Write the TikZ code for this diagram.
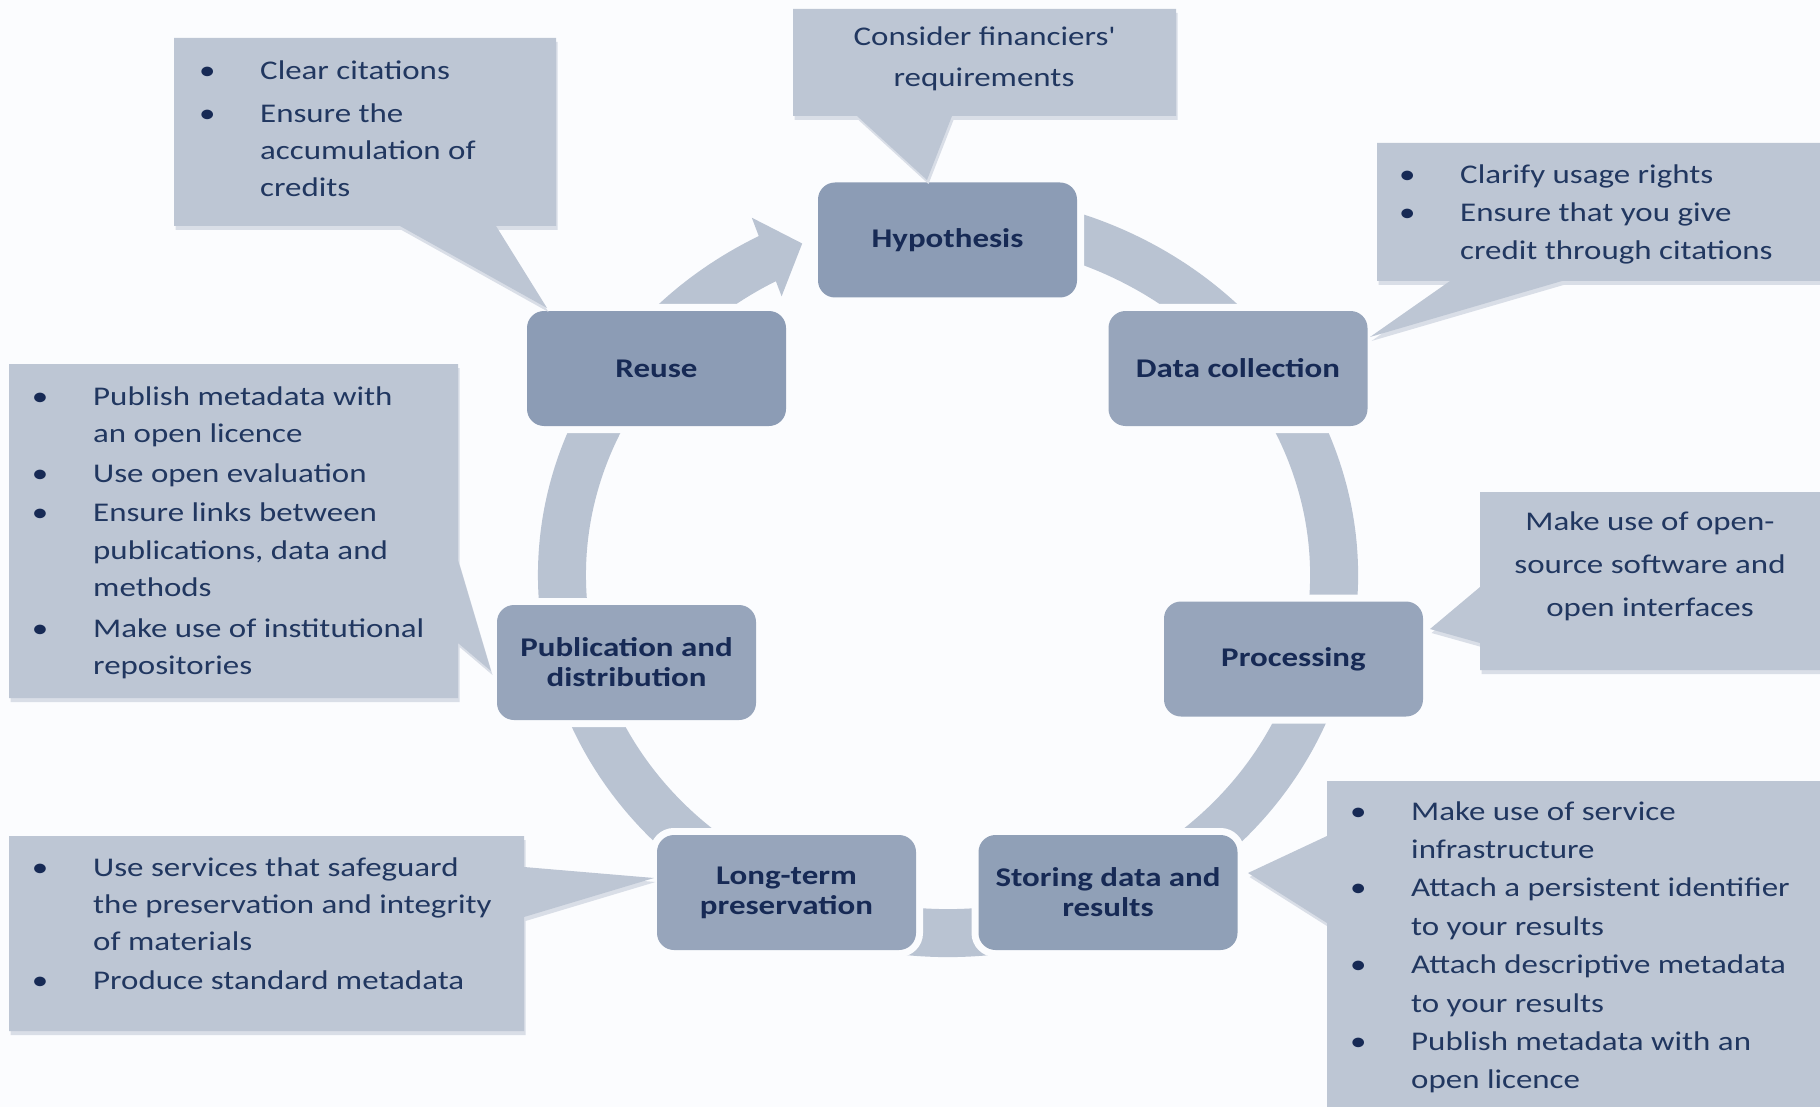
\documentclass[tikz,border=0pt]{standalone}
\usepackage{fontspec}
\setmainfont{Carlito}[FakeStretch=1.22]
\usetikzlibrary{shadows}
\definecolor{bgc}{HTML}{FBFCFE}
\definecolor{ringc}{HTML}{B9C3D2}
\definecolor{callc}{HTML}{BDC6D4}
\definecolor{shadc}{HTML}{D9DEE7}
\definecolor{boxa}{HTML}{8C9CB5}
\definecolor{boxb}{HTML}{97A5BB}
\definecolor{boxtxt}{HTML}{172A55}
\definecolor{ctxt}{HTML}{213760}
\definecolor{bulc}{HTML}{172A55}
\newcommand{\cbul}{\makebox[0pt]{\textcolor{bulc}{\textbullet}}\hspace*{53pt}}
\newcommand{\cind}{\hspace*{53pt}}
\begin{document}
\begin{tikzpicture}[x=1pt,y=-1pt,
  stage/.style={rounded corners=17pt, minimum width=259pt, minimum height=115pt,
    inner sep=0pt, align=center, text=boxtxt,
    font=\fontsize{27pt}{30pt}\selectfont\bfseries,
    preaction={draw=bgc, line width=14pt}},
  callout/.style={fill=callc, drop shadow={shadow xshift=1.5pt, shadow yshift=-4pt, fill=shadc, opacity=1}},
  ctext/.style={inner sep=0pt, text=ctxt},
  ringband/.style={draw=ringc, line width=48pt, line cap=butt}]
\fill[bgc] (0,0) rectangle (1820,1107);
\useasboundingbox (0,0) rectangle (1820,1107);

% cycle ring
\coordinate (rc) at (948,575);
\draw[ringband] (rc) ++(252:386 and 358) arc[start angle=252, end angle=603, x radius=386, y radius=358];
\fill[ringc] (802.2,243.5) -- (781.6,296.3) -- (751.8,217.7) -- cycle;

% stages
\node[stage, fill=boxa] (hyp) at (947.5,240) {Hypothesis};
\node[stage, fill=boxb] (dc) at (1238,368.5) {Data collection};
\node[stage, fill=boxb] (proc) at (1293.5,659) {Processing};
\node[stage, fill=boxa!60!boxb] (store) at (1108,892.5) {Storing data and\\results};
\node[stage, fill=boxb] (ltp) at (786.5,892.5) {Long-term\\preservation};
\node[stage, fill=boxb] (pub) at (626.5,662.5) {Publication and\\distribution};
\node[stage, fill=boxa] (reuse) at (656.5,368.5) {Reuse};

% callouts
\fill[callout] (174,38) -- (556,38) -- (556,226) -- (496,226) -- (547,308) -- (400,226) -- (174,226) -- cycle;
\fill[callout] (793,9) -- (1176,9) -- (1176,116) -- (952,116) -- (927,180) -- (857,116) -- (793,116) -- cycle;
\fill[callout] (1377,143) -- (1820,143) -- (1820,281) -- (1562,281) -- (1370,337) -- (1450,281) -- (1377,281) -- cycle;
\fill[callout] (1480,492) -- (1820,492) -- (1820,670) -- (1480,670) -- (1480,643) -- (1430,629) -- (1480,587) -- cycle;
\fill[callout] (1327,781) -- (1820,781) -- (1820,1107) -- (1327,1107) -- (1327,923) -- (1248,873) -- (1327,836) -- cycle;
\fill[callout] (9,364) -- (458,364) -- (458,560) -- (491,671) -- (458,643) -- (458,698) -- (9,698) -- cycle;
\fill[callout] (9,836) -- (524,836) -- (524,867) -- (654,878) -- (524,917) -- (524,1031) -- (9,1031) -- cycle;

% callout texts
\node[ctext, anchor=base west] (tA) at (207,80) {\parbox[t]{420pt}{\raggedright\fontsize{27pt}{37pt}\selectfont
  \cbul Clear citations\\[6pt]\cbul Ensure the\\\cind accumulation of\\\cind credits}};
\node[ctext, anchor=base] (tB) at (984,46) {\parbox[t]{380pt}{\centering\fontsize{27pt}{41pt}\selectfont
  Consider financiers\textquotesingle\\requirements}};
\node[ctext, anchor=base west] (tC) at (1407,184) {\parbox[t]{420pt}{\raggedright\fontsize{27pt}{38pt}\selectfont
  \cbul Clarify usage rights\\\cbul Ensure that you give\\\cind credit through citations}};
\node[ctext, anchor=base] (tD) at (1650,530) {\parbox[t]{330pt}{\centering\fontsize{27pt}{43pt}\selectfont
  Make use of open-\\source software and\\open interfaces}};
\node[ctext, anchor=base west] (tE) at (1358,820) {\parbox[t]{460pt}{\raggedright\fontsize{27pt}{38.4pt}\selectfont
  \cbul Make use of service\\\cind infrastructure\\\cbul Attach a persistent identifier\\\cind to your results\\\cbul Attach descriptive metadata\\\cind to your results\\\cbul Publish metadata with an\\\cind open licence}};
\node[ctext, anchor=base west] (tF) at (40,405) {\parbox[t]{420pt}{\raggedright\fontsize{27pt}{37.5pt}\selectfont
  \cbul Publish metadata with\\\cind an open licence\\[2pt]\cbul Use open evaluation\\[2pt]\cbul Ensure links between\\\cind publications, data and\\\cind methods\\[3pt]\cbul Make use of institutional\\\cind repositories}};
\node[ctext, anchor=base west] (tG) at (40,876) {\parbox[t]{480pt}{\raggedright\fontsize{27pt}{37pt}\selectfont
  \cbul Use services that safeguard\\\cind the preservation and integrity\\\cind of materials\\[2pt]\cbul Produce standard metadata}};
\end{tikzpicture}
\end{document}
